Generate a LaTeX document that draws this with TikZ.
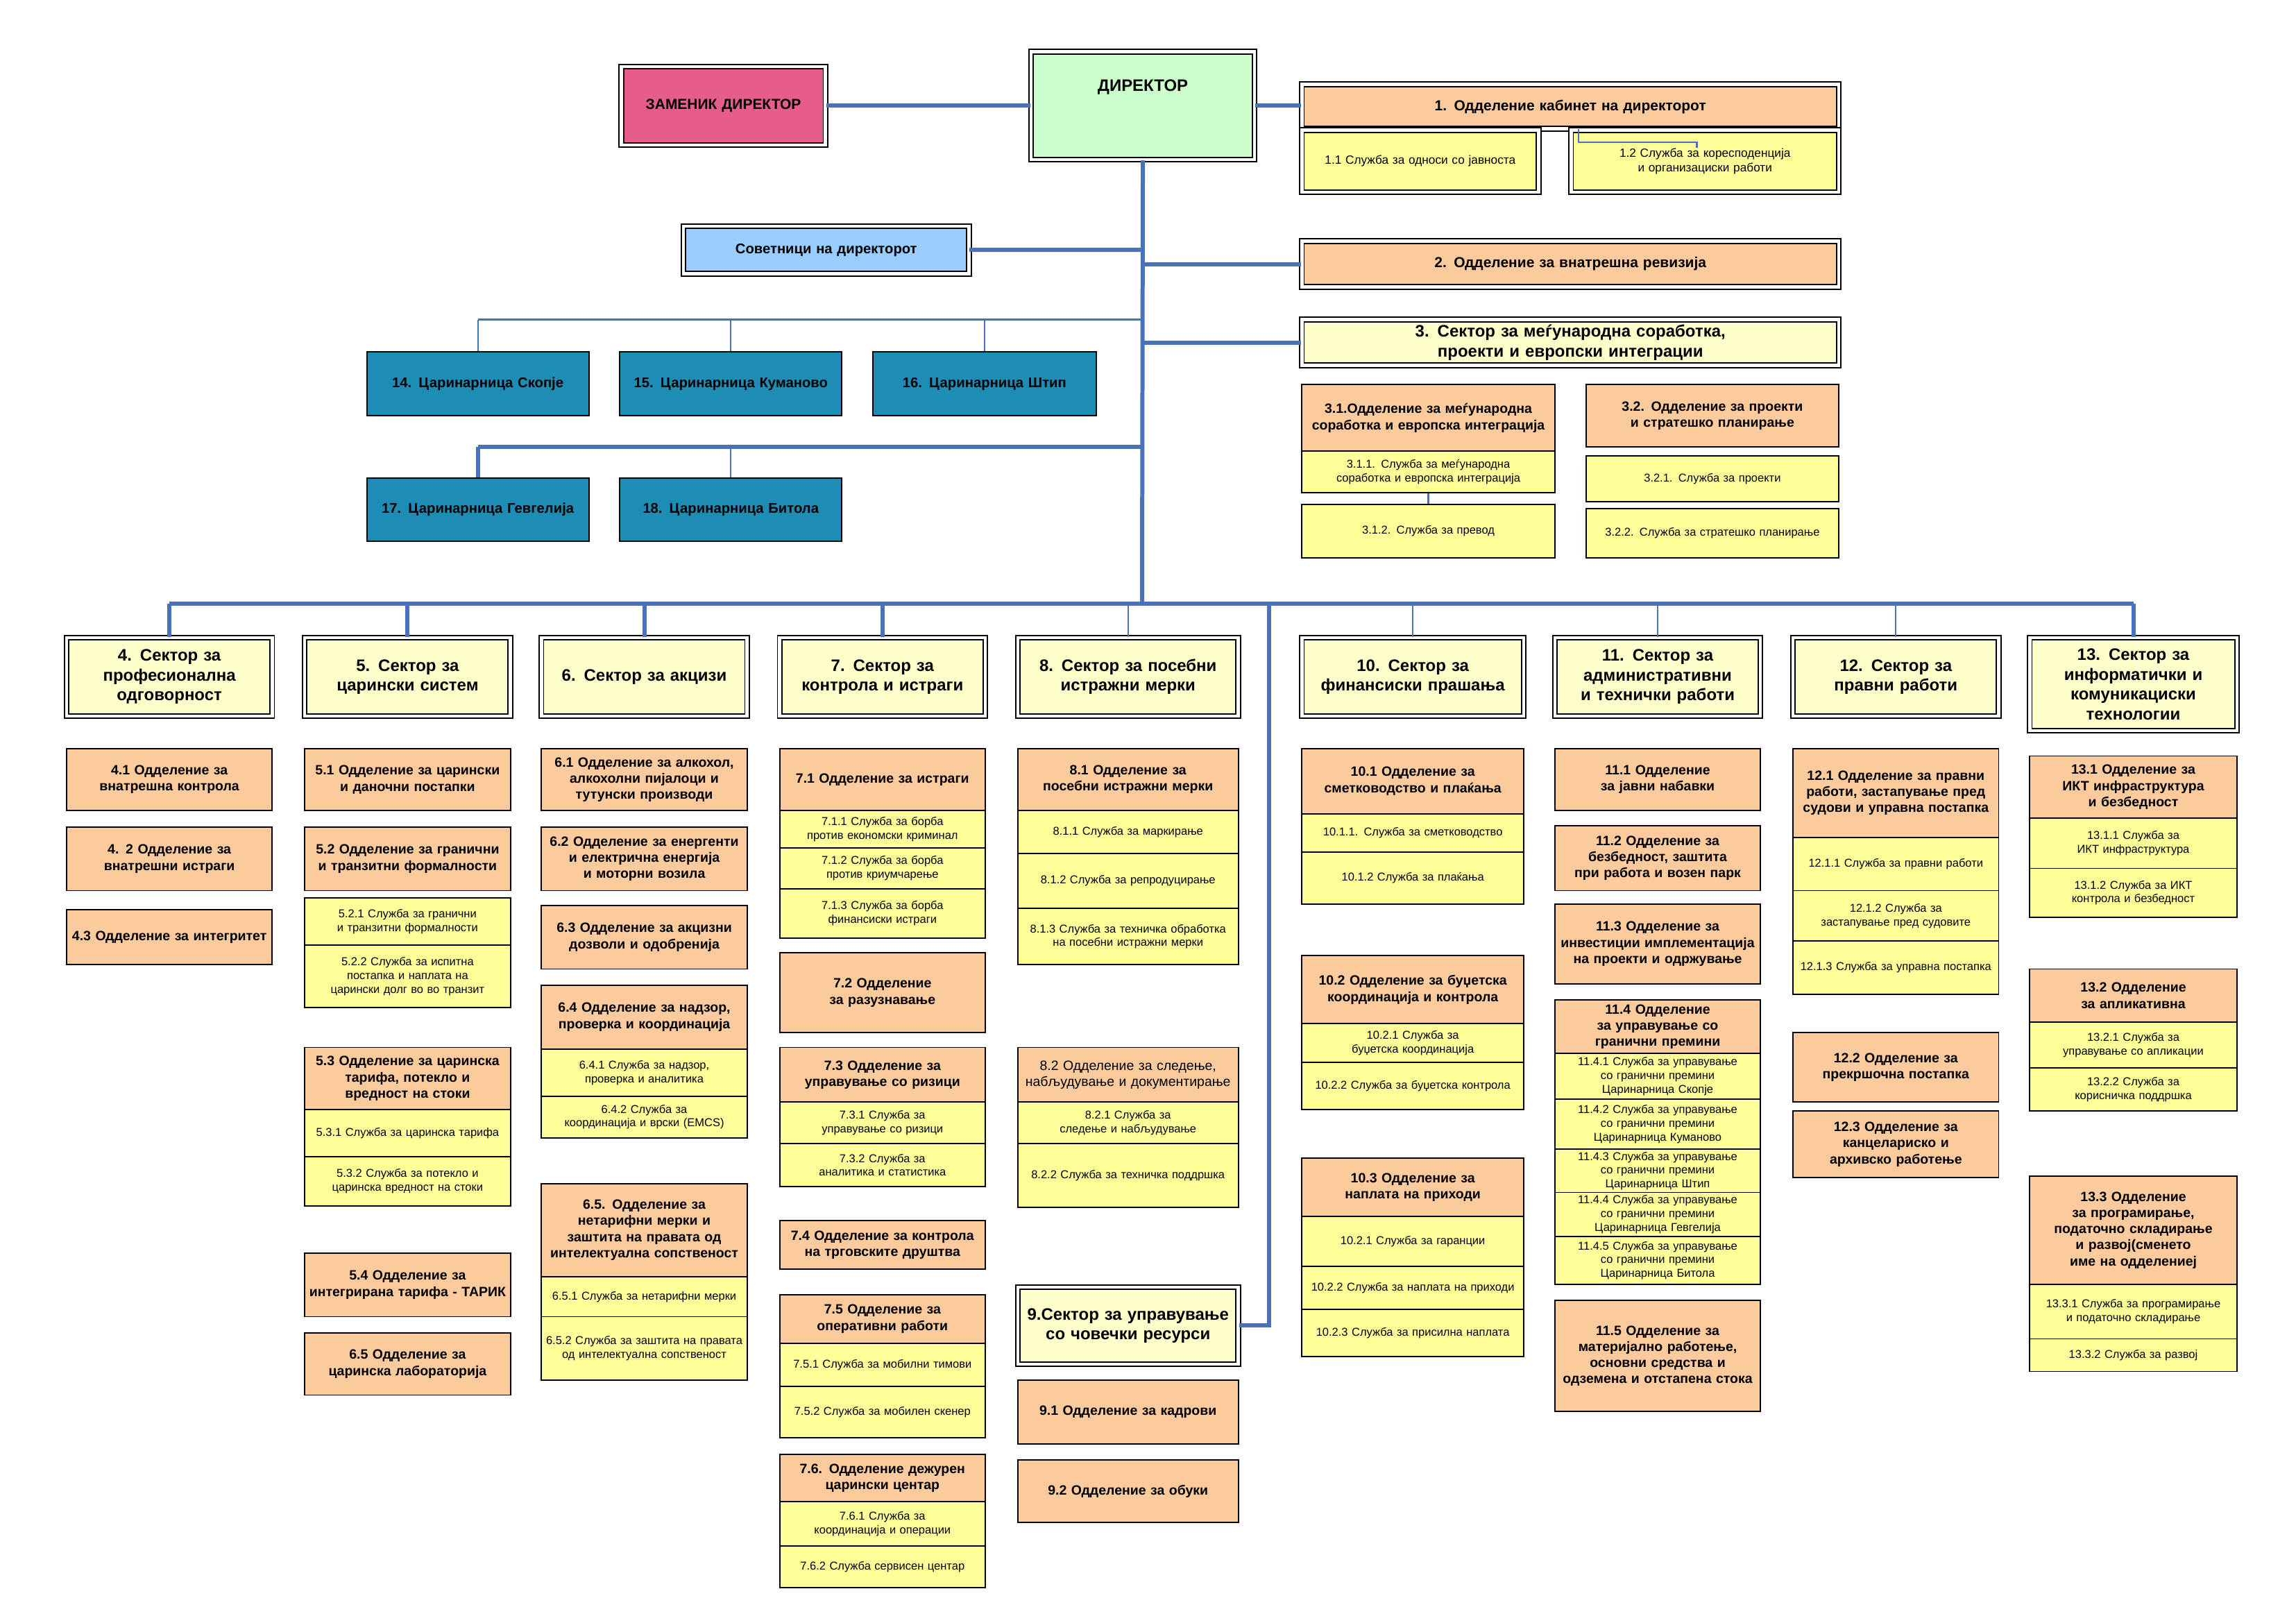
\documentclass[tikz,border=0pt]{standalone}
\usepackage{fontspec}
\setmainfont{Liberation Sans}
\definecolor{peach}{HTML}{FBCB9E}
\definecolor{yel}{HTML}{FFFF99}
\definecolor{lyel}{HTML}{FFFFCC}
\definecolor{grn}{HTML}{CCFFCC}
\definecolor{pink}{HTML}{E65C8E}
\definecolor{lblue}{HTML}{99CCFF}
\definecolor{teal}{HTML}{1E8DB5}
\definecolor{lin}{HTML}{4A72B8}
\tikzset{
 base/.style={draw=black,line width=0.5pt,align=center,inner sep=1pt},
 dept/.style={base,fill=peach,font=\fontsize{5.2}{6.2}\selectfont\bfseries},
 serv/.style={base,fill=yel,font=\fontsize{4.4}{5.3}\selectfont},
 sect/.style={base,fill=lyel,double,double distance=1.2pt,font=\fontsize{6.4}{7.6}\selectfont\bfseries},
 topd/.style={base,fill=peach,double,double distance=1.2pt,font=\fontsize{5.6}{6.6}\selectfont\bfseries},
 tops/.style={base,fill=yel,double,double distance=1.2pt,font=\fontsize{4.6}{5.6}\selectfont},
 cust/.style={base,fill=teal,font=\fontsize{5.4}{6.4}\selectfont\bfseries},
 thick/.style={draw=lin,line width=1.6pt},
 thin/.style={draw=lin,line width=0.6pt}
}
\newcommand\bx[7]{%
 \pgfmathsetmacro\bw{(#5-#3)*0.02}\pgfmathsetmacro\bh{(#6-#4)*0.02}\pgfmathsetmacro\tw{(#5-#3)*0.02-0.1}%
 \node[#2,minimum width=\bw cm,minimum height=\bh cm,text width=\tw cm] (#1) at ({(#3+#5)/2},{(#4+#6)/2}) {#7};}
\begin{document}
\begin{tikzpicture}[x=0.02cm,y=-0.02cm]
\useasboundingbox[fill=white] (0,0) rectangle (1552,1097);
% top
\bx{dep}{base,fill=pink,double,double distance=1.2pt,font=\fontsize{5.6}{6.6}\selectfont\bfseries}{420}{45}{558}{98}{ЗАМЕНИК ДИРЕКТОР}
\node[base,fill=grn,double,double distance=1.2pt,minimum width=3.02cm,minimum height=1.46cm,font=\fontsize{6.4}{7.6}\selectfont\bfseries,text depth=0.55cm] (dir) at (772.5,71.5) {ДИРЕКТОР};
\bx{o1}{topd}{880}{57}{1243}{87}{1. Одделение кабинет на  директорот}
\bx{o11}{tops}{880}{88}{1040}{130}{1.1 Служба за односи со јавноста\\[6pt]}
\bx{o12}{tops}{1062}{88}{1243}{130}{1.2 Служба за коресподенција и организациски работи}
\bx{adv}{base,fill=lblue,double,double distance=1.2pt,font=\fontsize{5.4}{6.4}\selectfont\bfseries}{462}{153}{655}{185}{Советници на директорот}
\bx{o2}{topd}{880}{163}{1243}{194}{2. Одделение за внатрешна ревизија}
\bx{s3}{sect}{880}{216}{1243}{247}{3. Сектор за меѓународна соработка, проекти и европски интеграции}
\bx{d31}{dept}{880}{260}{1051}{305}{3.1.Одделение за меѓународна соработка и европска интеграција}
\bx{v311}{serv}{880}{305}{1051}{333}{3.1.1. Служба за меѓународна соработка и европска интеграција}
\bx{v312}{serv}{880}{341}{1051}{377}{3.1.2. Служба за превод}
\bx{d32}{dept}{1072}{260}{1243}{302}{3.2. Одделение за проекти и стратешко планирање}
\bx{v321}{serv}{1072}{308}{1243}{339}{3.2.1. Служба за проекти}
\bx{v322}{serv}{1072}{344}{1243}{377}{3.2.2. Служба за стратешко планирање}
% customs
\bx{c14}{cust}{248}{238}{398}{281}{14. Царинарница Скопје}
\bx{c15}{cust}{419}{238}{569}{281}{15. Царинарница Куманово}
\bx{c16}{cust}{590}{238}{741}{281}{16. Царинарница Штип}
\bx{c17}{cust}{248}{323}{398}{366}{17. Царинарница Гевгелија}
\bx{c18}{cust}{419}{323}{569}{366}{18. Царинарница Битола}
% sectors
\bx{s4}{sect}{45}{431}{184}{484}{4. Сектор за професионална одговорност}
\bx{s5}{sect}{206}{431}{345}{484}{5. Сектор за царински систем\\[6pt]}
\bx{s6}{sect}{366}{431}{505}{484}{6. Сектор за акцизи\\[8pt]}
\bx{s7}{sect}{527}{431}{666}{484}{7. Сектор за контрола и истраги\\[6pt]}
\bx{s8}{sect}{688}{431}{837}{484}{8. Сектор за посебни истражни мерки\\[6pt]}
\bx{s9}{sect}{688}{870}{837}{922}{9.Сектор за управување со човечки ресурси}
\bx{s10}{sect}{880}{431}{1030}{484}{10. Сектор за финансиски прашања}
\bx{s11}{sect}{1051}{431}{1190}{484}{11. Сектор за административни и технички работи}
\bx{s12}{sect}{1212}{431}{1351}{484}{12. Сектор за правни работи\\[6pt]}
\bx{s13}{sect}{1372}{431}{1512}{494}{13. Сектор за информатички и комуникациски технологии}
% col 4
\bx{d41}{dept}{45}{506}{184}{548}{4.1 Одделение за внатрешна контрола}
\bx{d42}{dept}{45}{559}{184}{602}{4. 2 Одделение за внатрешни истраги}
\bx{d43}{dept}{45}{615}{184}{652}{4.3 Одделение за интегритет}
% col 5
\bx{d51}{dept}{206}{506}{345}{548}{5.1 Одделение за царински и даночни постапки}
\bx{d52}{dept}{206}{559}{345}{602}{5.2 Одделение за гранични и транзитни формалности}
\bx{v521}{serv}{206}{607}{345}{639}{5.2.1 Служба за гранични и транзитни формалности}
\bx{v522}{serv}{206}{639}{345}{681}{5.2.2 Служба за испитна постапка и наплата на царински долг во во транзит}
\bx{d53}{dept}{206}{708}{345}{750}{5.3 Одделение за царинска тарифа, потекло и вредност на стоки}
\bx{v531}{serv}{206}{750}{345}{782}{5.3.1 Служба за царинска тарифа}
\bx{v532}{serv}{206}{782}{345}{815}{5.3.2 Служба за потекло и царинска вредност на стоки}
\bx{d54}{dept}{206}{847}{345}{890}{5.4 Одделение за интегрирана тарифа - ТАРИК}
\bx{d55}{dept}{206}{901}{345}{943}{6.5 Одделение за царинска лабораторија}
% col 6
\bx{d61}{dept}{366}{506}{505}{548}{6.1 Одделение за алкохол, алкохолни пијалоци и тутунски производи}
\bx{d62}{dept}{366}{559}{505}{602}{6.2 Одделение за енергенти и електрична енергија и моторни возила}
\bx{d63}{dept}{366}{612}{505}{655}{6.3 Одделение за акцизни дозволи и одобренија}
\bx{d64}{dept}{366}{666}{505}{709}{6.4 Одделение за надзор, проверка и координација}
\bx{v641}{serv}{366}{709}{505}{741}{6.4.1 Служба за надзор, проверка и аналитика}
\bx{v642}{serv}{366}{741}{505}{769}{6.4.2 Служба за координација и врски (EMCS)}
\bx{d65}{dept}{366}{800}{505}{863}{6.5.  Одделение за нетарифни мерки и заштита на правата од интелектуална сопственост}
\bx{v651}{serv}{366}{863}{505}{890}{6.5.1 Служба за  нетарифни мерки}
\bx{v652}{serv}{366}{890}{505}{933}{6.5.2  Служба за заштита на правата од интелектуална сопственост}
% col 7
\bx{d71}{dept}{527}{506}{666}{548}{7.1 Одделение за истраги}
\bx{v711}{serv}{527}{548}{666}{573}{7.1.1 Служба за борба против економски криминал}
\bx{v712}{serv}{527}{573}{666}{601}{7.1.2 Служба за борба  против криумчарење}
\bx{v713}{serv}{527}{601}{666}{634}{7.1.3 Служба за борба финансиски истраги}
\bx{d72}{dept}{527}{644}{666}{698}{7.2  Одделение за разузнавање}
\bx{d73}{dept}{527}{708}{666}{745}{7.3 Одделение за управување со ризици}
\bx{v731}{serv}{527}{745}{666}{773}{7.3.1 Служба за управување со ризици}
\bx{v732}{serv}{527}{773}{666}{802}{7.3.2 Служба за аналитика и статистика}
\bx{d74}{dept}{527}{825}{666}{858}{7.4 Одделение за контрола на трговските друштва}
\bx{d75}{dept}{527}{875}{666}{908}{7.5 Одделение за оперативни работи}
\bx{v751}{serv}{527}{908}{666}{937}{7.5.1 Служба за мобилни тимови}
\bx{v752}{serv}{527}{937}{666}{972}{7.5.2 Служба за мобилен скенер}
\bx{d76}{dept}{527}{983}{666}{1015}{7.6. Одделение дежурен царински центар}
\bx{v761}{serv}{527}{1015}{666}{1045}{7.6.1 Служба за координација и операции}
\bx{v762}{serv}{527}{1045}{666}{1073}{7.6.2 Служба сервисен центар}
% col 8
\bx{d81}{dept}{688}{506}{837}{548}{8.1 Одделение за посебни истражни мерки}
\bx{v811}{serv}{688}{548}{837}{577}{8.1.1 Служба за маркирање}
\bx{v812}{serv}{688}{577}{837}{614}{8.1.2 Служба за репродуцирање}
\bx{v813}{serv}{688}{614}{837}{652}{8.1.3 Служба за техничка обработка на посебни истражни мерки}
\bx{d82}{dept}{688}{708}{837}{745}{\mdseries 8.2 Одделение за следење, набљудување и документирање}
\bx{v821}{serv}{688}{745}{837}{773}{8.2.1 Служба за следење и набљудување}
\bx{v822}{serv}{688}{773}{837}{816}{8.2.2 Служба за техничка поддршка}
\bx{d91}{dept}{688}{933}{837}{976}{9.1 Одделение за кадрови}
\bx{d92}{dept}{688}{987}{837}{1029}{9.2 Одделение за обуки}
% col 10
\bx{d101}{dept}{880}{506}{1030}{550}{10.1 Одделение за сметководство и плаќања}
\bx{v1011}{serv}{880}{550}{1030}{576}{10.1.1. Служба за сметководство}
\bx{v1012}{serv}{880}{576}{1030}{611}{10.1.2 Служба за плаќања}
\bx{d102}{dept}{880}{646}{1030}{692}{10.2 Одделение за буџетска координација и контрола}
\bx{v1021}{serv}{880}{692}{1030}{718}{10.2.1 Служба за буџетска координација}
\bx{v1022}{serv}{880}{718}{1030}{750}{10.2.2 Служба за буџетска контрола}
\bx{d103}{dept}{880}{783}{1030}{822}{10.3 Одделение за наплата на приходи}
\bx{v1031}{serv}{880}{822}{1030}{856}{10.2.1 Служба за гаранции}
\bx{v1032}{serv}{880}{856}{1030}{885}{10.2.2 Служба за наплата на приходи}
\bx{v1033}{serv}{880}{885}{1030}{917}{10.2.3  Служба за присилна наплата}
% col 11
\bx{d111}{dept}{1051}{506}{1190}{548}{11.1 Одделение за јавни набавки}
\bx{d112}{dept}{1051}{558}{1190}{602}{11.2 Одделение за безбедност, заштита при работа и возен парк}
\bx{d113}{dept}{1051}{611}{1190}{665}{11.3 Одделение за инвестиции имплементација на проекти и одржување}
\bx{d114}{dept}{1051}{676}{1190}{712}{11.4 Одделение за управување со гранични премини}
\bx{v1141}{serv}{1051}{712}{1190}{743}{11.4.1 Служба за управување со гранични премини Царинарница Скопје}
\bx{v1142}{serv}{1051}{743}{1190}{777}{11.4.2 Служба за управување со гранични премини Царинарница Куманово}
\bx{v1143}{serv}{1051}{777}{1190}{806}{11.4.3 Служба за управување со гранични премини Царинарница Штип}
\bx{v1144}{serv}{1051}{806}{1190}{836}{11.4.4 Служба за управување со гранични премини Царинарница Гевгелија}
\bx{v1145}{serv}{1051}{836}{1190}{868}{11.4.5 Служба за управување со гранични премини Царинарница Битола}
\bx{d115}{dept}{1051}{879}{1190}{954}{11.5 Одделение за материјално работење, основни средства и одземена и отстапена стока}
% col 12
\bx{d121}{dept}{1212}{506}{1351}{566}{12.1 Одделение за правни работи, застапување пред судови  и управна постапка}
\bx{v1211}{serv}{1212}{566}{1351}{602}{12.1.1 Служба за правни работи}
\bx{v1212}{serv}{1212}{602}{1351}{636}{12.1.2 Служба за застапување пред судовите}
\bx{v1213}{serv}{1212}{636}{1351}{672}{12.1.3 Служба за управна постапка}
\bx{d122}{dept}{1212}{698}{1351}{745}{12.2 Одделение за прекршочна постапка}
\bx{d123}{dept}{1212}{751}{1351}{796}{12.3 Одделение за канцелариско и архивско работење}
% col 13
\bx{d131}{dept}{1372}{511}{1512}{553}{13.1 Одделение за ИКТ инфраструктура и безбедност}
\bx{v1311}{serv}{1372}{553}{1512}{587}{13.1.1 Служба за ИКТ инфраструктура}
\bx{v1312}{serv}{1372}{587}{1512}{620}{13.1.2 Служба за ИКТ контрола и безбедност}
\bx{d132}{dept}{1372}{655}{1512}{691}{13.2 Одделение за апликативна}
\bx{v1321}{serv}{1372}{691}{1512}{722}{13.2.1  Служба за управување со апликации}
\bx{v1322}{serv}{1372}{722}{1512}{751}{13.2.2 Служба за корисничка поддршка}
\bx{d133}{dept}{1372}{795}{1512}{868}{13.3 Одделение за програмирање, податочно складирање и развој(сменето име на одделениеј}
\bx{v1331}{serv}{1372}{868}{1512}{905}{13.3.1 Служба за програмирање и податочно складирање}
\bx{v1332}{serv}{1372}{905}{1512}{927}{13.3.2 Служба за развој}
% connectors
\coordinate (bus) at (772,408);
\coordinate (tb) at (772,216);
\coordinate (kb) at (772,302);
\coordinate (b9) at (858,408);
\coordinate (k12) at (1067,96);
\draw[thick] (dir.south) -- (bus);
\draw[thick] (dep.east) -- (dir.west);
\draw[thick] (dir.east) -- (dir.east -| o1.west);
\draw[thick] (adv.east) -- (adv.east -| dir.south);
\draw[thick] (o2.west -| dir.south) -- (o2.west);
\draw[thick] (s3.west -| dir.south) -- (s3.west);
\draw[thin] (c14.north |- tb) -- (tb);
\draw[thin] (c14.north |- tb) -- (c14.north);
\draw[thin] (c15.north |- tb) -- (c15.north);
\draw[thin] (c16.north |- tb) -- (c16.north);
\draw[thick] (c17.north |- kb) -- (kb);
\draw[thick] (c17.north |- kb) -- (c17.north);
\draw[thin] (c18.north |- kb) -- (c18.north);
\draw[thick] (s4.north |- bus) -- (s13.north |- bus);
\foreach \s in {s4,s5,s6,s7,s13} \draw[thick] (\s.north |- bus) -- (\s.north);
\foreach \s in {s8,s10,s11,s12} \draw[thin] (\s.north |- bus) -- (\s.north);
\draw[thick] (b9) -- (b9 |- s9.east) -- (s9.east);
\draw[thin] (k12 |- o1.south) -- (k12) -- (1147,96) -- (1147,100);
\draw[thin] (v311.south) -- (v312.north);
\end{tikzpicture}
\end{document}
